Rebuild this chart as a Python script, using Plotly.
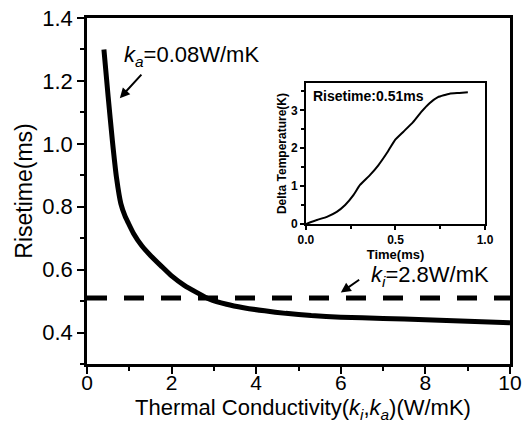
import plotly.graph_objects as go

# Rise time versus thermal conductivity
conductivity = [0.40, 0.50, 0.60, 0.70, 0.80, 0.90, 0.97, 1.10, 1.30, 1.50, 1.75, 2.00,
                2.30, 2.60, 2.90, 3.30, 3.70, 4.20, 4.70, 5.30, 6.00, 7.00, 8.00, 9.00, 10.0]
risetime = [1.30, 1.15, 1.01, 0.89, 0.81, 0.77, 0.75, 0.715, 0.675, 0.645, 0.612, 0.58,
            0.55, 0.527, 0.506, 0.49, 0.479, 0.469, 0.461, 0.454, 0.449, 0.445, 0.441, 0.436, 0.431]

# Reference rise time for k_i = 2.8 W/mK
ki_risetime = 0.51
ki_span = [0, 10]

# Inset: temperature rise over time
time_ms = [0.0, 0.061, 0.117, 0.172, 0.219, 0.265, 0.302, 0.357, 0.404, 0.45, 0.496,
           0.543, 0.598, 0.644, 0.69, 0.737, 0.802, 0.857, 0.904]
delta_t = [0.0, 0.105, 0.19, 0.32, 0.5, 0.76, 1.03, 1.29, 1.55, 1.86, 2.21,
           2.43, 2.69, 2.96, 3.19, 3.35, 3.44, 3.46, 3.48]

FONT = "Liberation Sans, Arial, sans-serif"

fig = go.Figure()

fig.add_trace(go.Scatter(
    x=conductivity, y=risetime, mode="lines",
    line=dict(color="black", width=5, shape="spline", smoothing=0.5),
    showlegend=False, xaxis="x", yaxis="y"))

fig.add_trace(go.Scatter(
    x=ki_span, y=[ki_risetime, ki_risetime], mode="lines",
    line=dict(color="black", width=5, dash="20px,17px"),
    showlegend=False, xaxis="x", yaxis="y"))

fig.add_trace(go.Scatter(
    x=time_ms, y=delta_t, mode="lines",
    line=dict(color="black", width=2, shape="spline", smoothing=0.4),
    showlegend=False, xaxis="x2", yaxis="y2"))

main_axis = dict(
    showgrid=False, zeroline=False, showline=True, linecolor="black", linewidth=2.5,
    mirror=True, ticks="outside", ticklen=7, tickwidth=2, tickcolor="black",
    automargin=False,
)

inset_axis = dict(
    showgrid=False, zeroline=False, showline=True, linecolor="black", linewidth=1.5,
    mirror=True, ticks="outside", ticklen=4, tickwidth=1.5, tickcolor="black",
    automargin=False,
    tickfont=dict(family=FONT, size=12, color="black", weight="bold"),
)

fig.update_layout(
    width=522, height=424,
    margin=dict(l=87, r=12, t=18, b=60),
    paper_bgcolor="white", plot_bgcolor="white",
    font=dict(family=FONT, color="black"),
    xaxis=dict(
        **main_axis, range=[0, 10], tick0=0, dtick=2, ticklabelstandoff=-9,
        tickfont=dict(family=FONT, size=21, color="black"),
        minor=dict(dtick=1, ticks="outside", ticklen=4, tickwidth=2, tickcolor="black"),
    ),
    yaxis=dict(
        **main_axis, range=[0.3, 1.4], tick0=0.4, dtick=0.2, tickformat=".1f",
        tickfont=dict(family=FONT, size=22, color="black"),
        minor=dict(dtick=0.1, ticks="outside", ticklen=4, tickwidth=2, tickcolor="black"),
        title=dict(text="Risetime(ms)", font=dict(family=FONT, size=23, color="black"), standoff=4),
    ),
    xaxis2=dict(
        **inset_axis, domain=[0.5176, 0.941], anchor="y2", range=[0, 1], dtick=0.5,
        tickformat=".1f",
        minor=dict(dtick=0.25, ticks="outside", ticklen=3, tickwidth=1.5, tickcolor="black"),
        title=dict(text="Time(ms)", font=dict(family=FONT, size=13, color="black", weight="bold"),
                   standoff=0),
    ),
    yaxis2=dict(
        **inset_axis, domain=[0.4046, 0.812], anchor="x2", range=[0, 3.72], dtick=1,
        minor=dict(dtick=0.5, ticks="outside", ticklen=3, tickwidth=1.5, tickcolor="black"),
        title=dict(text="Delta Temperature(K)",
                   font=dict(family=FONT, size=12, color="black", weight="bold"), standoff=2),
    ),
)

# x-axis title, placed just under the tick labels
fig.add_annotation(
    xref="paper", yref="paper", x=0.51, y=-0.085, xanchor="center", yanchor="top",
    text="Thermal Conductivity(<i>k</i><sub><i>i</i></sub>,<i>k</i><sub><i>a</i></sub>)(W/mK)",
    showarrow=False, font=dict(family=FONT, size=22, color="black"))

fig.add_annotation(
    xref="x2 domain", yref="y2 domain", x=0.03, y=0.98, xanchor="left", yanchor="top",
    text="Risetime:0.51ms", showarrow=False,
    font=dict(family=FONT, size=14, color="black", weight="bold"))

fig.add_annotation(
    xref="x", yref="y", x=0.82, y=1.279, xanchor="left", yanchor="middle",
    text="<i>k</i><sub><i>a</i></sub>=0.08W/mK", showarrow=False,
    font=dict(family=FONT, size=22, color="black"))

fig.add_annotation(
    xref="x", yref="y", x=6.66, y=0.58, xanchor="left", yanchor="middle",
    text="<i>k</i><sub><i>i</i></sub>=2.8W/mK", showarrow=False,
    font=dict(family=FONT, size=22, color="black"))

# Arrows pointing from the labels to the marks
fig.add_annotation(
    xref="x", yref="y", axref="x", ayref="y",
    x=0.776, y=1.145, ax=1.318, ay=1.225, text="",
    showarrow=True, arrowhead=2, arrowsize=1, arrowwidth=2, arrowcolor="black")

fig.add_annotation(
    xref="x", yref="y", axref="x", ayref="y",
    x=6.0, y=0.527, ax=6.47, ay=0.571, text="",
    showarrow=True, arrowhead=2, arrowsize=1, arrowwidth=2, arrowcolor="black")

fig.write_html("out.html")
